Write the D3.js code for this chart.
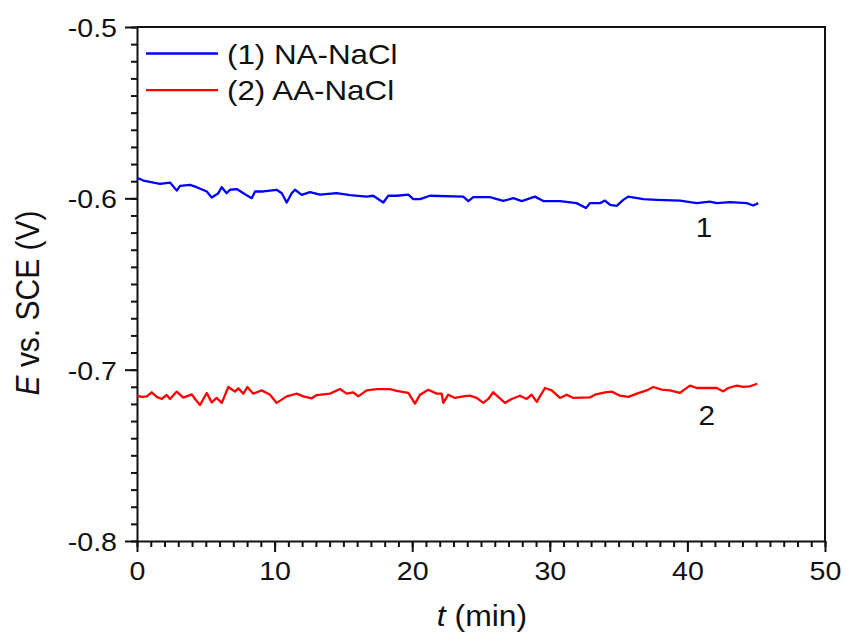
<!DOCTYPE html>
<html>
<head>
<meta charset="utf-8">
<script src="https://cdn.jsdelivr.net/npm/d3@7"></script>
<style>
  body { margin: 0; background: #fff; }
  svg text { font-family: "Liberation Sans", Arial, sans-serif; fill: #111; }
</style>
</head>
<body>
<svg id="chart" width="846" height="634"></svg>
<script>
// time (min) and potential (V vs SCE)
const tNA = [0, 0.46, 1.67, 2.40, 2.89, 3.13, 3.85, 4.34, 5.07, 5.43, 5.91, 6.16, 6.52, 6.76, 7.25, 7.85, 8.34, 8.58, 9.18, 10.15,
  10.52, 10.88, 11.24, 11.48, 11.97, 12.57, 13.30, 14.51, 15.48, 16.69, 17.17, 17.90, 18.26, 18.87, 19.72, 20.08, 20.57, 21.29,
  23.71, 24.08, 24.44, 25.65, 26.62, 27.35, 27.96, 28.92, 29.53, 30.74, 31.95, 32.63, 32.92, 33.65, 34.01, 34.38, 34.86, 35.34,
  35.70, 36.80, 37.77, 39.46, 40.68, 41.64, 42.13, 43.10, 44.31, 44.79, 45.15];
const eNA = [-0.5880, -0.5896, -0.5915, -0.5908, -0.5955, -0.5927, -0.5921, -0.5935, -0.5960, -0.5995, -0.5970, -0.5935, -0.5970,
  -0.5950, -0.5946, -0.5976, -0.5999, -0.5960, -0.5960, -0.5950, -0.5970, -0.6024, -0.5970, -0.5950, -0.5980, -0.5964, -0.5978,
  -0.5970, -0.5981, -0.5990, -0.5985, -0.6024, -0.5985, -0.5985, -0.5978, -0.6005, -0.6005, -0.5985, -0.5990, -0.6016, -0.5993,
  -0.5993, -0.6015, -0.5999, -0.6016, -0.5990, -0.6016, -0.6016, -0.6028, -0.6057, -0.6028, -0.6028, -0.6013, -0.6038, -0.6044,
  -0.6009, -0.5990, -0.6005, -0.6009, -0.6013, -0.6028, -0.6019, -0.6028, -0.6022, -0.6028, -0.6042, -0.6028];

const tAA = [0, 0.34, 0.71, 1.07, 1.43, 1.80, 2.16, 2.40, 2.89, 3.36, 3.98, 4.22, 4.58, 5.07, 5.43, 5.79, 6.16, 6.64, 7.12, 7.36,
  7.73, 8.02, 8.45, 9.06, 9.67, 10.15, 10.88, 11.61, 12.09, 12.70, 13.06, 14.03, 14.75, 15.24, 15.72, 16.08, 16.69, 17.42, 18.39,
  18.87, 19.72, 20.20, 20.57, 21.17, 21.78, 22.14, 22.26, 22.62, 23.11, 23.71, 24.20, 24.69, 25.17, 25.53, 25.89, 26.74, 27.23,
  27.83, 28.32, 28.68, 29.05, 29.65, 30.14, 30.74, 31.23, 31.71, 32.92, 33.28, 34.01, 34.50, 35.10, 35.71, 36.32, 37.04, 37.52,
  38.13, 38.74, 39.46, 39.70, 40.19, 40.68, 42.13, 42.61, 42.97, 43.58, 44.06, 44.55, 45.08];
const eAA = [-0.7152, -0.7159, -0.7156, -0.7132, -0.7159, -0.7171, -0.7148, -0.7171, -0.7128, -0.7163, -0.7144, -0.7171, -0.7206,
  -0.7136, -0.7191, -0.7165, -0.7194, -0.7101, -0.7128, -0.7109, -0.7140, -0.7101, -0.7140, -0.7121, -0.7146, -0.7194, -0.7156,
  -0.7140, -0.7156, -0.7167, -0.7148, -0.7140, -0.7113, -0.7140, -0.7132, -0.7156, -0.7121, -0.7113, -0.7113, -0.7124, -0.7136,
  -0.7198, -0.7146, -0.7117, -0.7140, -0.7140, -0.7194, -0.7146, -0.7165, -0.7156, -0.7152, -0.7165, -0.7194, -0.7171, -0.7132,
  -0.7194, -0.7171, -0.7152, -0.7171, -0.7146, -0.7188, -0.7107, -0.7121, -0.7165, -0.7146, -0.7165, -0.7162, -0.7146, -0.7132,
  -0.7128, -0.7152, -0.7159, -0.7140, -0.7121, -0.7101, -0.7117, -0.7121, -0.7136, -0.7121, -0.7093, -0.7107, -0.7107, -0.7127,
  -0.7107, -0.7093, -0.7101, -0.7097, -0.7082];

const seriesNames = ['(1) NA-NaCl', '(2) AA-NaCl'];
const seriesTags = ['1', '2'];
const seriesColors = ['#0000ff', '#ff0000'];
const xMajor = [0, 10, 20, 30, 40, 50];
const yMajor = [-0.5, -0.6, -0.7, -0.8];

const margin = {top: 27, right: 21, bottom: 93, left: 137};
const width = 846 - margin.left - margin.right,
  height = 634 - margin.top - margin.bottom;
const stretch = 'scale(1.1,1)';

const svg = d3.select('#chart');
const g = svg.append('g').attr('transform', 'translate(' + margin.left + ',' + margin.top + ')');

const xScale = d3.scaleLinear().domain([0, 50]).range([0, width]);
const yScale = d3.scaleLinear().domain([-0.8, -0.5]).range([height, 0]);

// frame: top and right plain lines
g.append('path')
  .attr('d', 'M0,0H' + width + 'V' + height)
  .attr('fill', 'none')
  .attr('stroke', '#111')
  .attr('stroke-width', 2);

// minor ticks
g.append('g')
  .attr('transform', 'translate(0,' + height + ')')
  .call(d3.axisBottom(xScale).tickValues(d3.range(0, 51, 1)).tickSize(6).tickFormat(''))
  .call(a => a.select('.domain').remove());
g.append('g')
  .call(d3.axisLeft(yScale).tickValues(d3.range(-80, -49, 1).map(v => v / 100)).tickSize(6).tickFormat(''))
  .call(a => a.select('.domain').remove());

// major ticks + labels
const xAxis = g.append('g')
  .attr('transform', 'translate(0,' + height + ')')
  .call(d3.axisBottom(xScale).tickValues(xMajor).tickSize(11).tickSizeOuter(0).tickPadding(10));
xAxis.selectAll('text')
  .attr('transform', stretch)
  .style('font-size', '26px');

const yAxis = g.append('g')
  .call(d3.axisLeft(yScale).tickValues(yMajor).tickSize(12).tickSizeOuter(0).tickFormat(d => d.toFixed(1)));
yAxis.selectAll('text')
  .attr('x', -20 / 1.1)
  .attr('dy', '0.36em')
  .attr('transform', stretch)
  .style('font-size', '26px');

g.selectAll('.domain, .tick line').attr('stroke', '#111').attr('stroke-width', 2);

// lines
const line = d3.line().x(d => xScale(d[0])).y(d => yScale(d[1]));
const series = [d3.zip(tNA, eNA), d3.zip(tAA, eAA)];

g.selectAll('.series')
  .data(series)
  .enter()
  .append('path')
  .attr('class', 'series')
  .attr('d', line)
  .attr('fill', 'none')
  .attr('stroke', (d, i) => seriesColors[i])
  .attr('stroke-width', 2.3)
  .attr('stroke-linejoin', 'round');

// curve tags
const tagPos = [[41.2, -0.6225], [41.4, -0.7325]];
g.selectAll('.tag')
  .data(seriesTags)
  .enter()
  .append('text')
  .attr('class', 'tag')
  .attr('transform', (d, i) => 'translate(' + xScale(tagPos[i][0]) + ',' + yScale(tagPos[i][1]) + ') ' + stretch)
  .attr('text-anchor', 'middle')
  .style('font-size', '27px')
  .text(d => d);

// legend
const legend = g.selectAll('.legend')
  .data(seriesNames)
  .enter()
  .append('g')
  .attr('class', 'legend')
  .attr('transform', (d, i) => 'translate(9,' + (26.5 + i * 36.7) + ')');
legend.append('line')
  .attr('x1', 0).attr('x2', 72)
  .attr('stroke', (d, i) => seriesColors[i])
  .attr('stroke-width', 2.3);
legend.append('text')
  .attr('transform', 'translate(81,10) ' + stretch)
  .style('font-size', '28.5px')
  .text(d => d);

// axis titles
const xTitle = svg.append('text')
  .attr('transform', 'translate(482,626) ' + stretch)
  .attr('text-anchor', 'middle')
  .style('font-size', '29px');
xTitle.append('tspan').style('font-style', 'italic').text('t');
xTitle.append('tspan').text(' (min)');

const yTitle = svg.append('text')
  .attr('transform', 'translate(39,303) ' + stretch + ' rotate(-90)')
  .attr('text-anchor', 'middle')
  .style('font-size', '30px');
yTitle.append('tspan').style('font-style', 'italic').text('E');
yTitle.append('tspan').text(' vs. SCE (V)');
</script>
</body>
</html>
